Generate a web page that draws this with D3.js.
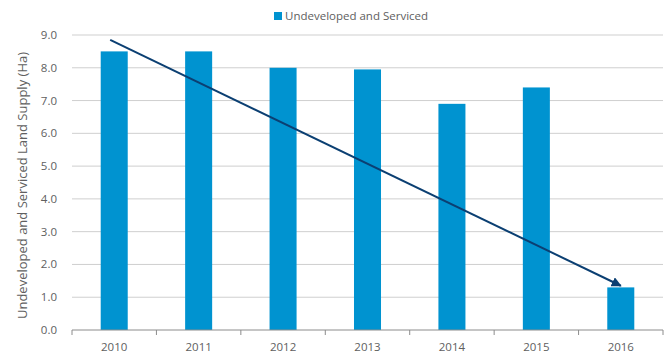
<!DOCTYPE html>
<html>
<head>
<meta charset="utf-8">
<script src="https://cdn.jsdelivr.net/npm/d3@7"></script>
<style>
  body { margin: 0; background: #fff; }
  text { font-family: "Open Sans", Roboto, sans-serif; fill: #606060; }
</style>
</head>
<body>
<div id="chart"></div>
<script>
// Chart data
const years = ['2010', '2011', '2012', '2013', '2014', '2015', '2016'];
const supply = [8.5, 8.5, 8.0, 7.95, 6.9, 7.4, 1.3];
const yTicks = [0, 1, 2, 3, 4, 5, 6, 7, 8, 9];
const seriesName = 'Undeveloped and Serviced';
const yLabel = 'Undeveloped and Serviced Land Supply (Ha)';
// Trend arrow: [year, value] start and end
const trend = [['2010', 8.85], ['2016', 1.35]];

const width = 667, height = 356;
const margin = { top: 35, right: 4, bottom: 26, left: 72 };

const svg = d3.select('#chart').append('svg')
  .attr('width', width)
  .attr('height', height)
  .style('display', 'block');

// Scales in page coordinates
const x = d3.scaleBand()
  .domain(years)
  .range([margin.left, width - margin.right])
  .paddingInner(0.68)
  .paddingOuter(0.34);

const y = d3.scaleLinear()
  .domain([0, 9])
  .range([height - margin.bottom, margin.top]);

const x0 = margin.left, x1 = width - margin.right;

// Gridlines
svg.append('g').selectAll('line')
  .data(yTicks.filter(d => d > 0))
  .join('line')
  .attr('x1', x0)
  .attr('x2', x1)
  .attr('y1', d => y(d))
  .attr('y2', d => y(d))
  .attr('stroke', '#cfcfcf')
  .attr('stroke-width', 1);

// Y axis labels
svg.append('g').selectAll('text')
  .data(yTicks)
  .join('text')
  .attr('x', x0 - 15)
  .attr('y', d => y(d))
  .attr('dy', '0.35em')
  .attr('text-anchor', 'end')
  .style('font-size', '11.5px')
  .text(d => d3.format('.1f')(d));

// Bars
svg.append('g').selectAll('rect')
  .data(supply)
  .join('rect')
  .attr('x', (d, i) => x(years[i]))
  .attr('y', d => y(d))
  .attr('width', x.bandwidth())
  .attr('height', d => y(0) - y(d))
  .attr('fill', '#0093d0');

// X axis with ticks between categories
const xAxis = svg.append('g');
xAxis.append('line')
  .attr('x1', x0).attr('x2', x1)
  .attr('y1', y(0)).attr('y2', y(0))
  .attr('stroke', '#8c8c8c');
xAxis.selectAll('.tick-line')
  .data(d3.range(years.length + 1))
  .join('line')
  .attr('class', 'tick-line')
  .attr('x1', i => x0 + i * x.step())
  .attr('x2', i => x0 + i * x.step())
  .attr('y1', y(0)).attr('y2', y(0) + 5)
  .attr('stroke', '#8c8c8c');
xAxis.selectAll('text')
  .data(years)
  .join('text')
  .attr('x', d => x(d) + x.bandwidth() / 2)
  .attr('y', y(0) + 17)
  .attr('dy', '0.35em')
  .attr('text-anchor', 'middle')
  .style('font-size', '11.5px')
  .text(d => d);

// Trend arrow
svg.append('defs').append('marker')
  .attr('id', 'arrow')
  .attr('viewBox', '0 0 10 10')
  .attr('refX', 9)
  .attr('refY', 5)
  .attr('markerWidth', 5)
  .attr('markerHeight', 5)
  .attr('markerUnits', 'strokeWidth')
  .attr('orient', 'auto')
  .append('path')
  .attr('d', 'M0,0 L10,5 L0,10 z')
  .attr('fill', '#0b3f72');

const cx = yr => x(yr) + x.bandwidth() / 2;
svg.append('line')
  .attr('x1', cx(trend[0][0]) - 4)
  .attr('y1', y(trend[0][1]))
  .attr('x2', cx(trend[1][0]))
  .attr('y2', y(trend[1][1]))
  .attr('stroke', '#0b3f72')
  .attr('stroke-width', 2)
  .attr('marker-end', 'url(#arrow)');

// Y axis title
svg.append('text')
  .attr('transform', `translate(22, ${(y(0) + y(9)) / 2 + 3}) rotate(-90)`)
  .attr('text-anchor', 'middle')
  .attr('dy', '0.35em')
  .style('font-size', '13px')
  .text(yLabel);

// Legend
const legend = svg.append('g').attr('transform', 'translate(274, 12)');
legend.append('rect')
  .attr('width', 8).attr('height', 8)
  .attr('fill', '#0093d0');
legend.append('text')
  .attr('x', 11)
  .attr('y', 4)
  .attr('dy', '0.35em')
  .style('font-size', '11.5px')
  .text(seriesName);
</script>
</body>
</html>
